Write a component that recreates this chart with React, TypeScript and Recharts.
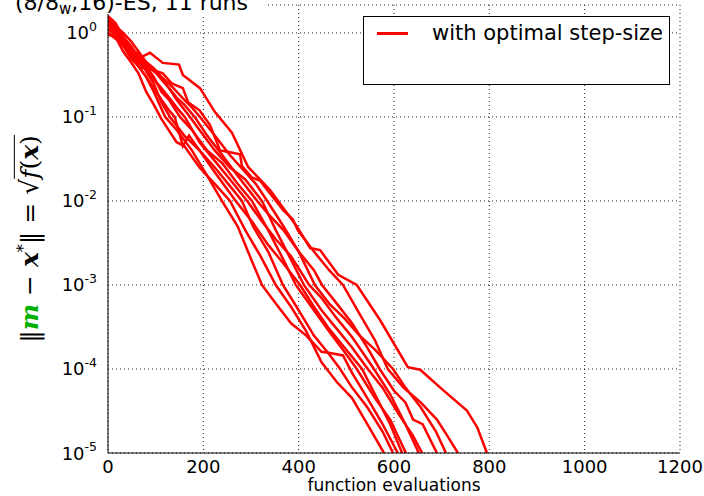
import React from 'react';
import { LineChart, Line, XAxis, YAxis, CartesianGrid } from 'recharts';

// axis setup
const evalTicks = [0, 200, 400, 600, 800, 1000, 1200];
const decadeTicks = [1e-5, 1e-4, 1e-3, 1e-2, 1e-1, 1];
const yTop = 2.15;
const minorTicks = decadeTicks
  .flatMap((d) => [2, 3, 4, 5, 6, 7, 8, 9].map((m) => m * d))
  .filter((v) => v <= yTop);

// 11 runs: [function evaluations, ||m - x*||]
const run01 = [[0, 1.0], [16, 0.89], [32, 0.6], [48, 0.45], [64, 0.33], [80, 0.2], [96, 0.14], [112, 0.095], [144, 0.05], [160, 0.045], [192, 0.025], [224, 0.016], [256, 0.01], [288, 4.5e-3], [320, 2.2e-3], [352, 1.0e-3], [384, 5.5e-4], [416, 2.8e-4], [448, 1.2e-4], [480, 7e-5], [512, 4.5e-5], [544, 2.2e-5], [579, 1e-5]];
const run02 = [[0, 1.3], [16, 1.0], [32, 0.7], [48, 0.5], [64, 0.4], [80, 0.3], [96, 0.2], [120, 0.1], [144, 0.07], [176, 0.04], [208, 0.02], [239, 0.01], [272, 5e-3], [304, 1.8e-3], [323, 1e-3], [352, 6e-4], [384, 3.5e-4], [416, 2.5e-4], [448, 1.6e-4], [466, 1.55e-4], [493, 1.45e-4], [512, 9e-5], [544, 4.5e-5], [576, 2.2e-5], [608, 1e-5]];
const run03 = [[0, 1.6], [16, 1.3], [32, 0.9], [48, 0.7], [64, 0.5], [80, 0.35], [96, 0.25], [112, 0.15], [130, 0.1], [160, 0.06], [192, 0.04], [224, 0.025], [256, 0.015], [281, 0.01], [304, 5e-3], [336, 2.5e-3], [367, 1e-3], [400, 5e-4], [432, 2.5e-4], [464, 1.5e-4], [487, 1e-4], [512, 6e-5], [544, 3.5e-5], [576, 1.8e-5], [598, 1e-5]];
const run04 = [[0, 1.1], [16, 0.95], [32, 0.75], [48, 0.55], [64, 0.4], [80, 0.3], [96, 0.22], [112, 0.16], [128, 0.12], [140, 0.1], [157, 0.045], [170, 0.06], [192, 0.04], [224, 0.022], [268, 0.01], [304, 5.5e-3], [336, 3e-3], [368, 1.8e-3], [403, 1e-3], [432, 5.5e-4], [464, 3e-4], [496, 1.8e-4], [533, 1e-4], [560, 5e-5], [592, 2.2e-5], [617, 1e-5]];
const run05 = [[0, 1.2], [16, 1.0], [32, 0.8], [48, 0.65], [64, 0.5], [80, 0.4], [96, 0.3], [112, 0.2], [128, 0.16], [151, 0.1], [176, 0.07], [208, 0.04], [240, 0.028], [272, 0.016], [302, 0.01], [336, 4.5e-3], [368, 2e-3], [394, 1e-3], [432, 5e-4], [464, 2.8e-4], [496, 1.6e-4], [522, 1e-4], [560, 4.5e-5], [592, 2.5e-5], [625, 1e-5]];
const run06 = [[0, 0.95], [16, 0.9], [32, 0.7], [48, 0.6], [64, 0.45], [80, 0.38], [96, 0.28], [112, 0.22], [128, 0.17], [144, 0.13], [161, 0.1], [192, 0.05], [224, 0.03], [256, 0.018], [292, 0.01], [320, 6e-3], [352, 3.5e-3], [384, 2.2e-3], [422, 1e-3], [448, 7e-4], [480, 4e-4], [512, 2.4e-4], [558, 1e-4], [592, 5e-5], [624, 2.2e-5], [652, 1e-5]];
const run07 = [[0, 1.45], [16, 1.2], [32, 1.0], [48, 0.8], [64, 0.6], [80, 0.45], [96, 0.35], [112, 0.3], [128, 0.22], [144, 0.16], [172, 0.1], [192, 0.07], [224, 0.04], [256, 0.025], [288, 0.018], [323, 0.01], [352, 4.5e-3], [384, 2e-3], [411, 1e-3], [448, 5e-4], [480, 3e-4], [512, 1.8e-4], [545, 1e-4], [576, 6e-5], [608, 3e-5], [640, 1.6e-5], [659, 1e-5]];
const run08 = [[0, 1.35], [16, 1.1], [32, 0.85], [48, 0.7], [64, 0.5], [80, 0.42], [96, 0.36], [112, 0.28], [128, 0.22], [144, 0.17], [160, 0.14], [182, 0.1], [208, 0.06], [240, 0.035], [272, 0.02], [313, 0.01], [336, 7e-3], [368, 4.5e-3], [400, 2.5e-3], [432, 1.5e-3], [449, 1e-3], [480, 6e-4], [512, 3.5e-4], [544, 1.8e-4], [570, 1e-4], [600, 5.5e-5], [624, 4e-5], [640, 2.5e-5], [660, 2.2e-5], [690, 1e-5]];
const run09 = [[0, 1.0], [16, 0.85], [32, 0.72], [48, 0.6], [64, 0.52], [80, 0.45], [96, 0.38], [112, 0.3], [128, 0.25], [144, 0.2], [160, 0.16], [176, 0.13], [193, 0.1], [224, 0.06], [256, 0.035], [288, 0.022], [310, 0.016], [334, 0.01], [368, 5e-3], [400, 2.5e-3], [434, 1e-3], [464, 6e-4], [496, 4e-4], [528, 2.5e-4], [560, 1.7e-4], [598, 1e-4], [624, 6e-5], [656, 3.5e-5], [688, 1.8e-5], [709, 1e-5]];
const run10 = [[0, 1.5], [16, 1.15], [32, 0.85], [48, 0.6], [64, 0.45], [73, 0.38], [96, 0.36], [115, 0.33], [134, 0.25], [157, 0.22], [168, 0.15], [192, 0.12], [214, 0.08], [235, 0.04], [256, 0.038], [277, 0.036], [281, 0.026], [302, 0.019], [319, 0.0175], [334, 0.0135], [350, 0.0104], [367, 7.8e-3], [388, 6e-3], [398, 4.5e-3], [432, 2.5e-3], [464, 1.5e-3], [493, 1e-3], [528, 4.5e-4], [560, 2.2e-4], [587, 1e-4], [620, 6e-5], [656, 4e-5], [690, 2.5e-5], [712, 1.6e-5], [734, 1e-5]];
const run11 = [[0, 1.43], [32, 0.9], [56, 0.6], [71, 0.52], [88, 0.58], [115, 0.44], [149, 0.42], [157, 0.316], [193, 0.22], [224, 0.115], [260, 0.065], [294, 0.0254], [340, 0.0135], [397, 4.9e-3], [424, 2.75e-3], [445, 2.6e-3], [483, 1.32e-3], [522, 1e-3], [571, 3.8e-4], [629, 1.05e-4], [655, 9.8e-5], [703, 5.6e-5], [753, 3.2e-5], [775, 2e-5], [795, 1e-5]];

const runs = [run01, run02, run03, run04, run05, run06, run07, run08, run09, run10, run11];

const FONT = '"DejaVu Sans", sans-serif';

const YTick = ({ x, y, payload }: any) => {
  const e = Math.round(Math.log10(payload.value));
  return (
    <text x={x} y={y} dy={6.5} textAnchor="end" fontFamily={FONT} fontSize={18} fill="#000">
      10<tspan dy={-8.5} fontSize={12.5}>{e}</tspan>
    </text>
  );
};

const XTick = ({ x, y, payload }: any) => (
  <text x={x} y={y} dy={18} textAnchor="middle" fontFamily={FONT} fontSize={18} fill="#000">
    {payload.value}
  </text>
);

const noLabel = () => null;

export default function App() {
  return (
    <div style={{ position: 'fixed', left: 0, top: 0, width: 704, height: 496, background: '#fff', overflow: 'hidden' }}>
      <LineChart width={704} height={496} margin={{ top: 5, right: 24, bottom: 13, left: 48 }}>
        <XAxis xAxisId="main" type="number" dataKey="x" domain={[0, 1200]} ticks={evalTicks}
          height={30} tickLine={false} tickSize={0} tick={<XTick />} axisLine={{ stroke: '#000' }} allowDataOverflow />
        <YAxis yAxisId="main" type="number" dataKey="y" scale="log" domain={[1e-5, yTop]} ticks={decadeTicks}
          width={60} tickLine={false} tickSize={0} tickMargin={11} tick={<YTick />} axisLine={{ stroke: '#000' }} allowDataOverflow />
        <CartesianGrid xAxisId="main" yAxisId="main" stroke="#222" strokeDasharray="1 3" />
        {runs.map((run, i) => (
          <Line key={i} xAxisId="main" yAxisId="main" data={run.map(([x, y]) => ({ x, y }))} dataKey="y"
            type="linear" stroke="#ff0000" strokeWidth={2.5} dot={false} isAnimationActive={false} />
        ))}
        {/* inward tick marks and frame, matplotlib style */}
        <XAxis xAxisId="bmaj" orientation="bottom" mirror height={0} type="number" domain={[0, 1200]} ticks={evalTicks}
          tickSize={7} tick={noLabel} axisLine={false} tickLine={{ stroke: '#000' }} />
        <XAxis xAxisId="tmaj" orientation="top" mirror height={0} type="number" domain={[0, 1200]} ticks={evalTicks}
          tickSize={7} tick={noLabel} axisLine={{ stroke: '#000' }} tickLine={{ stroke: '#000' }} />
        <YAxis yAxisId="lmaj" orientation="left" mirror width={0} scale="log" domain={[1e-5, yTop]} ticks={decadeTicks}
          tickSize={7} tick={noLabel} axisLine={false} tickLine={{ stroke: '#000' }} allowDataOverflow />
        <YAxis yAxisId="lmin" orientation="left" mirror width={0} scale="log" domain={[1e-5, yTop]} ticks={minorTicks}
          tickSize={4} tick={noLabel} axisLine={false} tickLine={{ stroke: '#000' }} allowDataOverflow />
        <YAxis yAxisId="rmaj" orientation="right" mirror width={0} scale="log" domain={[1e-5, yTop]} ticks={decadeTicks}
          tickSize={7} tick={noLabel} axisLine={{ stroke: '#000' }} tickLine={{ stroke: '#000' }} allowDataOverflow />
        <YAxis yAxisId="rmin" orientation="right" mirror width={0} scale="log" domain={[1e-5, yTop]} ticks={minorTicks}
          tickSize={4} tick={noLabel} axisLine={false} tickLine={{ stroke: '#000' }} allowDataOverflow />
      </LineChart>

      <svg width={704} height={496} style={{ position: 'absolute', left: 0, top: 0, pointerEvents: 'none' }}>
        <rect x={0} y={0} width={267} height={14} fill="#fff" />
        <text x={15} y={9.5} fontFamily={FONT} fontSize={22} fill="#000">
          (8/8<tspan dy={4} fontSize={15}>w</tspan><tspan dy={-4}>,16)-ES, 11 runs</tspan>
        </text>
        <text x={394} y={491} textAnchor="middle" fontFamily={FONT} fontSize={17} fill="#000">
          function evaluations
        </text>
      </svg>

      <div style={{ position: 'absolute', left: 363, top: 16, width: 305, height: 67, border: '1px solid #000', background: '#fff' }}>
        <div style={{ position: 'absolute', left: 13, top: 15, width: 31, height: 2.5, background: '#ff0000' }} />
        <div style={{ position: 'absolute', left: 68, top: 4, fontFamily: FONT, fontSize: 21, lineHeight: '24px', whiteSpace: 'nowrap' }}>
          with optimal step-size
        </div>
      </div>

      <div style={{ position: 'absolute', left: 27, top: 239, transform: 'translate(-50%, -50%) rotate(-90deg)', whiteSpace: 'nowrap',
        fontFamily: '"DejaVu Serif", serif', fontSize: 25, lineHeight: '32px' }}>
        ‖<b><i style={{ color: '#00b000' }}>m</i></b> − <b><i>x</i></b><sup style={{ fontSize: 16 }}>*</sup>‖ = √<span style={{ borderTop: '1.5px solid #000' }}><i>f</i>(<b><i>x</i></b>)</span>
      </div>
    </div>
  );
}
